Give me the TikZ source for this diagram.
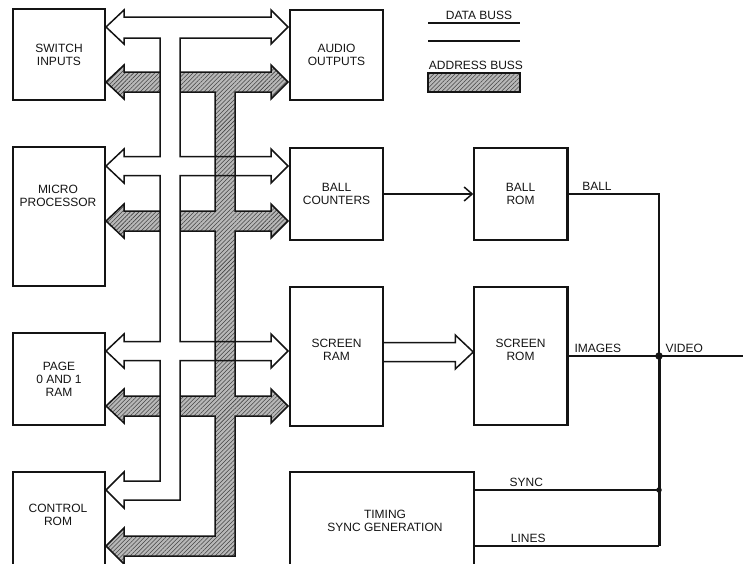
\documentclass[tikz,border=0pt]{standalone}
\usepackage{fontspec}
\setmainfont{Liberation Sans}
\usepackage{tikz}
\usetikzlibrary{arrows.meta,positioning,calc,patterns.meta}
\definecolor{Ink}{gray}{0.08}
\definecolor{Hatch}{gray}{0.72}
\tikzset{
  blk/.style={draw=Ink,line width=1.5pt,minimum width=92pt,minimum height=92pt,align=center,inner sep=0pt,text=Ink},
  lbl/.style={align=center,inner sep=0pt,text=Ink},
  sig/.style={draw=Ink,line width=1.5pt},
  databus/.style={draw=Ink,line width=1.5pt,line join=miter},
  addrbus/.style={draw=Ink,line width=1.5pt,preaction={fill=Hatch},pattern={Lines[angle=45,distance=3pt,line width=.55pt]},pattern color=Ink!80},
  jdot/.style={circle,fill=Ink,inner sep=0pt,minimum size=7.5pt}
}

\begin{document}
\begin{tikzpicture}[x=1pt,y=-1pt,font=\fontsize{12}{13}\selectfont]
  \useasboundingbox (0,0) rectangle (743,563);
  \clip (0,0) rectangle (743,563);

  % address buss (hatched)
  \path[addrbus] (106,82) -- (124,65) -- (124,72) -- (271,72) -- (271,65) -- (288,82) -- (271,99) -- (271,92) -- (235,92)
    \foreach \c in {221,406}{ -- (235,\c-10) -- (271,\c-10) -- (271,\c-17) -- (288,\c) -- (271,\c+17) -- (271,\c+10) -- (235,\c+10) }
    -- (235,556) -- (124,556) -- (124,564) -- (106,546) -- (124,528) -- (124,536) -- (215,536)
    \foreach \c in {406,221}{ -- (215,\c+10) -- (124,\c+10) -- (124,\c+17) -- (106,\c) -- (124,\c-17) -- (124,\c-10) -- (215,\c-10) }
    -- (215,92) -- (124,92) -- (124,99) -- cycle;

  % data buss (open)
  \fill[white] (160,38) rectangle (180,500);
  \draw[databus] (106,27) -- (124,10) -- (124,17) -- (271,17) -- (271,10) -- (288,27) -- (271,44) -- (271,38) -- (180,38)
    \foreach \c in {166,351}{ -- (180,\c-9.5) -- (271,\c-9.5) -- (271,\c-17) -- (288,\c) -- (271,\c+17) -- (271,\c+9.5) -- (180,\c+9.5) }
    -- (180,500) -- (124,500) -- (124,508) -- (106,490) -- (124,472) -- (124,481) -- (160,481)
    \foreach \c in {351,166}{ -- (160,\c+9.5) -- (124,\c+9.5) -- (124,\c+17) -- (106,\c) -- (124,\c-17) -- (124,\c-9.5) -- (160,\c-9.5) }
    -- (160,38) -- (124,38) -- (124,44) -- cycle;

  % left column
  \node[blk,minimum height=91pt] (swin) at (59,54.5) {SWITCH\\INPUTS};
  \node[blk,minimum height=139pt] (mpu) at (59,216.5) {};
  \node[lbl] (mputxt) at (58,196) {MICRO\\PROCESSOR};
  \node[blk] (pram) at (59,379) {PAGE\\0 AND 1\\RAM};
  \node[blk,minimum height=110pt] (crom) at (59,527) {};
  \node[lbl] (cromtxt) at (58,515) {CONTROL\\ROM};

  % right side blocks
  \node[blk,minimum width=93pt,minimum height=90pt] (aud) at (336.5,55) {AUDIO\\OUTPUTS};
  \node[blk,minimum width=93pt] (bcnt) at (336.5,194) {BALL\\COUNTERS};
  \node[blk,minimum width=93pt] (brom) at (520.5,194) {BALL\\ROM};
  \node[blk,minimum width=93pt,minimum height=139pt] (sram) at (336.5,356.5) {};
  \node[lbl] (sramtxt) at (336.5,350) {SCREEN\\RAM};
  \node[blk,minimum width=93pt,minimum height=138pt] (srom) at (520.5,356) {};
  \node[lbl] (sromtxt) at (520.5,350) {SCREEN\\ROM};
  \node[blk,minimum width=184pt,minimum height=110pt] (tgen) at (382,527) {};
  \node[lbl] (tgentxt) at (385,521) {TIMING\\SYNC GENERATION};
  \draw[line width=3pt,Ink] (brom.north east) -- (brom.south east) (srom.north east) -- (srom.south east);

  % video lines
  \coordinate (vj) at (659,356);
  \coordinate (vout) at (743,356);
  \coordinate (sj) at (659,490);
  \coordinate (lj) at (659,546);
  \coordinate (ht) at ([yshift=4pt]srom.west);
  \coordinate (hs) at (sram.east |- ht);
  \draw[sig,-{Straight Barb[length=8pt,width=14pt]}] (bcnt.east) -- (brom.west);
  \draw[sig,line join=miter] ($(hs)+(0,-9.5)$) -- ($(ht)+(-18,-9.5)$) -- ($(ht)+(-18,-17)$) -- (ht)
    -- ($(ht)+(-18,17)$) -- ($(ht)+(-18,9.5)$) -- ($(hs)+(0,9.5)$);
  \draw[sig] (brom.east) -- node[lbl,above=3pt,pos=.32] (balltxt) {BALL} (brom.east -| vj) -- (vj);
  \draw[sig] (srom.east) -- node[lbl,above=3pt,pos=.33] (imgtxt) {IMAGES} (vj);
  \draw[sig] (vj) -- node[lbl,above=3pt,pos=.3] (vidtxt) {VIDEO} (vout);
  \draw[sig] (tgen.east |- sj) -- node[lbl,above=3pt,pos=.28] (synctxt) {SYNC} (sj);
  \draw[sig] (tgen.east |- lj) -- node[lbl,above=3pt,pos=.29] (linetxt) {LINES} (lj);
  \draw[line width=3pt,Ink] (vj) -- (lj);
  \node[jdot] (vdot) at (vj) {};
  \node[jdot,minimum size=5.5pt] (sdot) at (sj) {};

  % legend
  \node[lbl] (dleg) at (479,15) {DATA BUSS};
  \draw[sig] (428,23) -- (520,23) (428,41) -- (520,41);
  \node[lbl] (aleg) at (476,65) {ADDRESS BUSS};
  \path[addrbus] (428,73) rectangle (520,92);
\end{tikzpicture}
\end{document}
